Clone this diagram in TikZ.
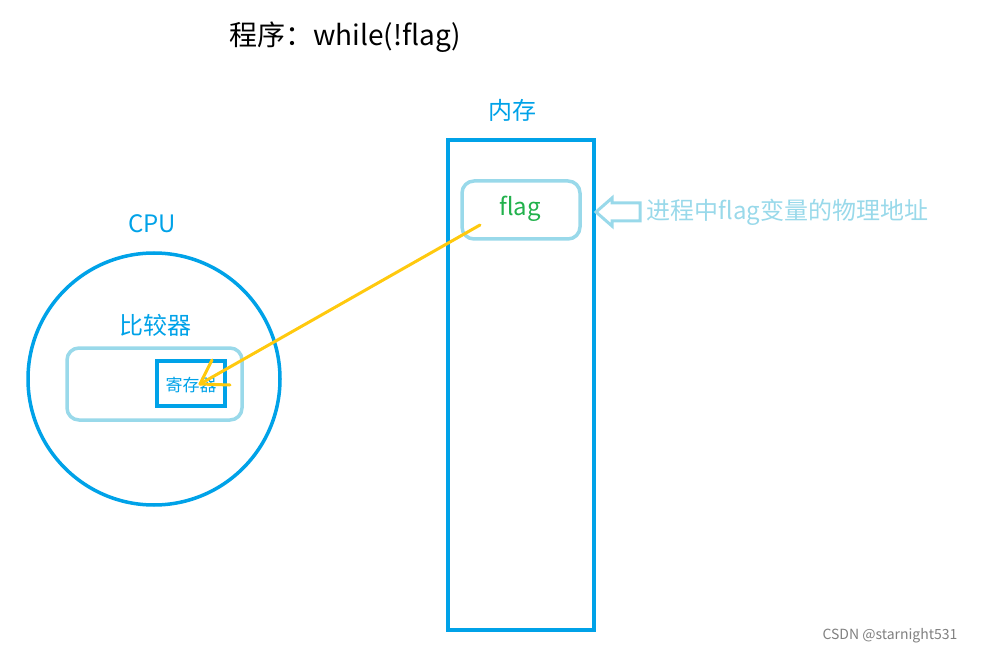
\documentclass[tikz,border=0pt]{standalone}
\usepackage{fontspec}
\setmainfont{Noto Sans CJK SC}
\usetikzlibrary{positioning}
\definecolor{memblue}{RGB}{0,162,232}
\definecolor{lightblue}{RGB}{153,217,234}
\definecolor{flaggreen}{RGB}{34,177,76}
\definecolor{ptr}{RGB}{255,201,14}
\tikzset{
  bluebox/.style={draw=memblue,line width=3.5pt},
  softbox/.style={draw=lightblue,line width=3.5pt,rounded corners=12pt},
  label/.style={text=memblue,font=\fontsize{24}{28}\selectfont}
}
\begin{document}
\begin{tikzpicture}[x=1pt,y=-1pt]
        \useasboundingbox (0,0) rectangle (988,655);
        % title
        \node (title) at (345,37) {\fontsize{28}{32}\selectfont 程序：while(!flag)};
        % memory
        \draw [bluebox] (448,140) rectangle (594,630);
        \node [label] (mem) at (512,110) {内存};
        \draw [softbox] (462,181) rectangle (580,239);
        \node [text=flaggreen,font=\fontsize{24}{28}\selectfont] (flag) at (520,209) {flag};
        \draw [lightblue,line width=3pt,line join=miter]
            (596,212) -- (612,198) -- (612,203) -- (640,203) -- (640,221) -- (612,221) -- (612,226) -- cycle;
        \node [anchor=west,text=lightblue,font=\fontsize{24}{28}\selectfont] (addr) at (643,212) {进程中flag变量的物理地址};
        % cpu
        \draw [memblue,line width=3.5pt] (154,379) circle (126);
        \node [label] (cpu) at (152,224) {CPU};
        \node [label] (cmp) at (155,325) {比较器};
        \draw [softbox] (67,348) rectangle (242,420);
        \draw [bluebox] (157,361) rectangle (225,406);
        \node [text=memblue,font=\fontsize{17}{20}\selectfont] (reg) at (191,385) {寄存器};
        % pointer
        \coordinate (from) at (480,225);
        \coordinate (tip) at (200,384);
        \draw [ptr,line width=3pt,line cap=round] (from) -- (tip);
        \draw [ptr,line width=3pt,line cap=round] (tip) -- (212,360);
        \draw [ptr,line width=3pt,line cap=round] (tip) -- (230,385);
        % watermark
        \node [text=gray,font=\fontsize{14}{16}\selectfont] (mark) at (890,636) {CSDN @starnight531};
    \end{tikzpicture}
\end{document}
